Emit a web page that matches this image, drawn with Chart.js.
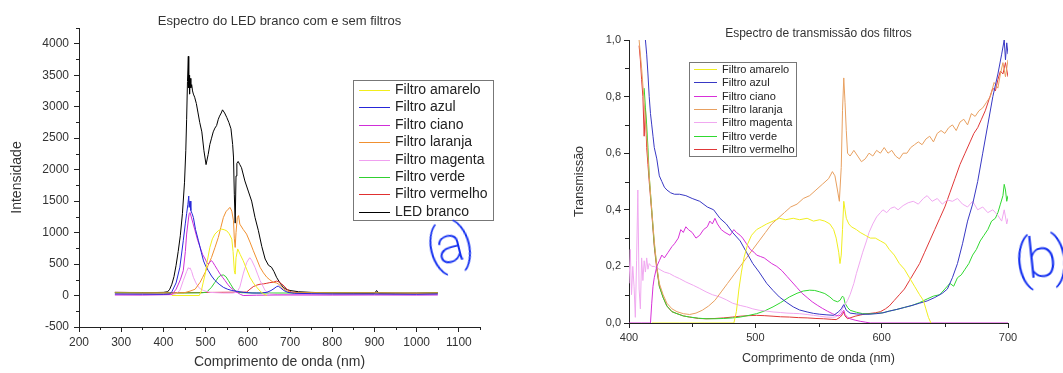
<!DOCTYPE html>
<html>
<head>
<meta charset="utf-8">
<script src="https://cdn.jsdelivr.net/npm/chart.js@4.4.1/dist/chart.umd.min.js"></script>
<style>
  html, body { margin: 0; padding: 0; background: #fff; }
  body { width: 1063px; height: 373px; position: relative; overflow: hidden; }
  #boxA { position: absolute; left: 0; top: 0; width: 530px; height: 373px; }
  #boxB { position: absolute; left: 540px; top: 0; width: 523px; height: 373px; }
  .hand { position: absolute; color: #1430f0; font-family: "DejaVu Sans ExtraLight", "Roboto", "Open Sans", sans-serif; font-weight: 200; line-height: 1; white-space: nowrap; transform-origin: 50% 50%; }
</style>
</head>
<body>
<div id="boxA"><canvas id="ledChart" width="530" height="373"></canvas></div>
<div id="boxB"><canvas id="transChart" width="523" height="373"></canvas></div>
<span class="hand" style="left:426px;top:220px;font-size:52px;letter-spacing:-6px;transform:rotate(-14deg);">(a)</span>
<span class="hand" style="left:1014px;top:230px;font-size:56px;letter-spacing:-5px;transform:rotate(-6deg);">(b)</span>
<script>
// ---- (a) LED spectrum, intensity vs wavelength (nm) ----
const ledX = [285, 320, 360, 400, 410, 415, 420, 425, 430, 435, 440, 445, 450, 453, 455, 457, 459, 460, 461, 462, 463, 465, 467, 469, 471, 474, 478, 482, 486, 491, 496, 501, 506, 510, 514, 518, 522, 526, 530, 533, 537, 540, 545, 550, 555, 560, 564, 566, 568, 570, 572, 574, 577, 581, 585, 593, 601, 609, 617, 625, 633, 641, 649, 656, 662, 668, 676, 684, 692, 700, 720, 750, 800, 850, 900, 905, 910, 950, 1000, 1050];
const ledY = [50, 48, 45, 50, 60, 100, 180, 300, 480, 700, 950, 1300, 1800, 2300, 2800, 3400, 3800, 3300, 3500, 3200, 3450, 3300, 3350, 3250, 3200, 3150, 3050, 2900, 2750, 2600, 2300, 2080, 2240, 2400, 2500, 2600, 2660, 2700, 2800, 2850, 2900, 2950, 2900, 2830, 2750, 2650, 2400, 2200, 1600, 1150, 1900, 2100, 2130, 2080, 2030, 1820, 1660, 1500, 1240, 1030, 780, 580, 480, 450, 380, 290, 200, 130, 95, 80, 60, 50, 40, 35, 30, 80, 35, 30, 35, 40];

const aAzulX = [285, 350, 400, 415, 420, 430, 439, 447, 452, 455, 458, 460, 461, 463, 465, 468, 471, 476, 483, 490, 495, 500, 506, 514, 522, 532, 542, 552, 562, 575, 590, 610, 630, 645, 655, 662, 668, 672, 678, 685, 695, 710, 750, 800, 900, 1000, 1050];
const aAzulY = [25, 22, 20, 25, 60, 200, 450, 870, 1150, 1300, 1450, 1580, 1400, 1500, 1350, 1300, 1240, 1050, 870, 680, 550, 470, 400, 310, 240, 180, 130, 100, 80, 65, 50, 40, 40, 50, 80, 110, 140, 150, 120, 80, 50, 35, 30, 25, 25, 20, 25];

const aCianoX = [285, 350, 420, 430, 440, 447, 452, 455, 459, 461, 463, 466, 470, 475, 481, 487, 493, 499, 503, 506, 510, 514, 518, 522, 528, 534, 540, 546, 552, 558, 566, 574, 582, 589, 620, 700, 800, 900, 1000, 1050];
const aCianoY = [10, 8, 15, 100, 250, 395, 700, 976, 1200, 1300, 1318, 1250, 1150, 1028, 880, 764, 650, 580, 520, 500, 530, 554, 520, 475, 410, 343, 290, 237, 180, 132, 90, 53, 20, 0, 5, 10, 8, 10, 8, 10];

const aMagentaX = [285, 350, 420, 430, 439, 447, 455, 459, 461, 463, 467, 471, 477, 483, 489, 495, 510, 540, 565, 574, 581, 589, 597, 603, 605, 609, 617, 623, 629, 641, 653, 670, 700, 800, 900, 1050];
const aMagentaY = [10, 10, 15, 30, 79, 237, 380, 443, 420, 440, 380, 290, 200, 132, 100, 79, 50, 40, 40, 53, 132, 343, 520, 590, 600, 560, 448, 340, 237, 79, 26, 15, 10, 10, 10, 10];

const aAmareloX = [420, 485, 490, 494, 499, 504, 510, 516, 522, 530, 538, 544, 550, 556, 562, 565, 568, 570, 572, 576, 582, 589, 597, 605, 613, 621, 629, 637, 645];
const aAmareloY = [0, 0, 80, 200, 343, 550, 764, 900, 976, 1030, 1055, 1045, 1028, 980, 897, 700, 395, 340, 600, 740, 650, 554, 420, 290, 200, 132, 70, 26, 0];

const aLaranjaX = [285, 350, 420, 450, 463, 475, 487, 493, 499, 506, 514, 522, 530, 536, 542, 548, 553, 558, 562, 566, 568, 570, 572, 575, 578, 581, 589, 597, 605, 613, 621, 629, 637, 645, 652, 660, 668, 672, 678, 684, 692, 700, 720, 800, 900, 1000, 1050];
const aLaranjaY = [40, 38, 40, 45, 70, 100, 211, 290, 369, 480, 606, 760, 922, 1080, 1239, 1330, 1370, 1400, 1340, 1186, 900, 764, 1000, 1239, 1270, 1134, 1050, 976, 850, 712, 580, 448, 360, 290, 250, 211, 200, 185, 150, 105, 75, 53, 45, 40, 40, 35, 40];

const aVerdeX = [285, 350, 450, 490, 502, 508, 514, 522, 530, 536, 542, 548, 554, 560, 566, 572, 577, 585, 620, 700, 800, 900, 1000, 1050];
const aVerdeY = [45, 42, 40, 42, 53, 90, 132, 210, 290, 320, 327, 300, 237, 170, 105, 70, 53, 45, 40, 40, 42, 40, 38, 42];

const aVermelhoX = [285, 350, 450, 520, 597, 605, 613, 621, 629, 637, 645, 652, 660, 668, 674, 680, 686, 692, 698, 703, 720, 800, 900, 1000, 1050];
const aVermelhoY = [50, 48, 45, 50, 55, 100, 142, 165, 180, 185, 195, 205, 211, 230, 215, 185, 150, 105, 75, 53, 48, 45, 45, 40, 45];

const aTicksX = [200, 300, 400, 500, 600, 700, 800, 900, 1000, 1100];
const aTicksY = [-500, 0, 500, 1000, 1500, 2000, 2500, 3000, 3500, 4000];

// ---- (b) transmission, 0..1 vs wavelength (nm) ----
const bAmareloX = [418, 440, 460, 483, 485, 487, 489, 491, 494, 497, 501, 505, 509, 514, 519, 524, 530, 535, 541, 546, 551, 555, 559, 562, 564, 566, 567, 568, 569, 570, 571, 572, 574, 576, 580, 583, 587, 591, 595, 599, 603, 606, 610, 614, 618, 622, 626, 630, 633, 635, 637, 639];
const bAmareloY = [0, 0, 0, 0, 0.04, 0.12, 0.18, 0.23, 0.28, 0.31, 0.33, 0.34, 0.35, 0.36, 0.37, 0.365, 0.37, 0.365, 0.37, 0.36, 0.365, 0.36, 0.35, 0.33, 0.30, 0.25, 0.21, 0.24, 0.33, 0.43, 0.40, 0.37, 0.35, 0.34, 0.33, 0.32, 0.31, 0.30, 0.30, 0.29, 0.28, 0.26, 0.24, 0.21, 0.19, 0.16, 0.13, 0.10, 0.08, 0.05, 0.02, 0];

const bAzulX = [413, 414, 415, 416, 417, 418, 419, 420, 422, 424, 426, 428, 430, 433, 436, 440, 445, 450, 456, 462, 467, 472, 477, 482, 488, 493, 498, 503, 509, 514, 519, 525, 530, 535, 541, 546, 551, 556, 562, 566, 568, 570, 572, 575, 580, 585, 590, 596, 601, 606, 612, 618, 624, 630, 636, 642, 648, 652, 656, 660, 664, 668, 672, 676, 680, 684, 688, 692, 695, 697, 698, 699, 700];
const bAzulY = [1.0, 0.95, 0.88, 0.8, 0.74, 0.70, 0.66, 0.62, 0.58, 0.52, 0.50, 0.48, 0.47, 0.46, 0.455, 0.455, 0.45, 0.44, 0.43, 0.41, 0.40, 0.37, 0.35, 0.32, 0.29, 0.25, 0.21, 0.18, 0.14, 0.115, 0.092, 0.072, 0.057, 0.046, 0.039, 0.034, 0.031, 0.029, 0.027, 0.04, 0.05, 0.065, 0.045, 0.035, 0.032, 0.031, 0.031, 0.033, 0.036, 0.042, 0.048, 0.055, 0.062, 0.07, 0.078, 0.09, 0.105, 0.12, 0.16, 0.21, 0.28, 0.36, 0.42, 0.5, 0.6, 0.7, 0.8, 0.88, 0.95, 1.0, 0.93, 0.99, 0.95];

const bCianoX = [400, 410, 417, 418, 419, 420, 422, 424, 426, 428, 431, 434, 436, 439, 441, 443, 445, 447, 450, 453, 456, 459, 462, 464, 466, 468, 470, 473, 476, 480, 483, 485, 488, 490, 493, 496, 499, 501, 504, 507, 510, 513, 517, 521, 525, 529, 533, 537, 541, 545, 549, 553, 557, 561, 564, 566, 568, 569, 570, 571, 573, 575, 579, 583, 587, 591, 600, 650, 700];
const bCianoY = [0, 0, 0, 0.07, 0.13, 0.16, 0.2, 0.22, 0.24, 0.23, 0.25, 0.27, 0.28, 0.3, 0.33, 0.32, 0.34, 0.33, 0.32, 0.3, 0.31, 0.33, 0.34, 0.36, 0.35, 0.37, 0.35, 0.33, 0.32, 0.31, 0.33, 0.32, 0.31, 0.3, 0.28, 0.26, 0.25, 0.24, 0.235, 0.23, 0.22, 0.21, 0.2, 0.185, 0.165, 0.145, 0.125, 0.105, 0.09, 0.075, 0.063, 0.052, 0.042, 0.033, 0.027, 0.025, 0.03, 0.04, 0.045, 0.03, 0.02, 0.015, 0.01, 0.006, 0.003, 0, 0, 0, 0];

const bLaranjaX = [408, 410, 412, 414, 416, 418, 420, 422, 424, 427, 430, 434, 438, 443, 448, 453, 458, 463, 468, 473, 478, 483, 488, 493, 498, 503, 508, 513, 518, 523, 528, 533, 538, 543, 548, 553, 558, 561, 563, 565, 566.5, 568, 569, 570, 571, 572, 573, 575, 578, 581, 584, 587, 590, 593, 596, 599, 602, 605, 608, 611, 614, 617, 620, 623, 626, 629, 632, 635, 638, 641, 644, 647, 650, 653, 656, 659, 662, 665, 668, 671, 674, 677, 680, 683, 686, 689, 692, 694, 696, 698, 700];
const bLaranjaY = [1.0, 0.9, 0.78, 0.66, 0.52, 0.40, 0.29, 0.2, 0.14, 0.1, 0.07, 0.05, 0.04, 0.033, 0.03, 0.035, 0.045, 0.06, 0.08, 0.11, 0.14, 0.17, 0.2, 0.23, 0.26, 0.29, 0.32, 0.35, 0.37, 0.39, 0.41, 0.42, 0.44, 0.45, 0.47, 0.49, 0.51, 0.535, 0.52, 0.47, 0.43, 0.55, 0.75, 0.866, 0.78, 0.68, 0.6, 0.59, 0.61, 0.59, 0.57, 0.58, 0.6, 0.59, 0.61, 0.6, 0.62, 0.6, 0.61, 0.59, 0.58, 0.6, 0.6, 0.62, 0.63, 0.64, 0.63, 0.65, 0.66, 0.64, 0.67, 0.68, 0.67, 0.69, 0.7, 0.68, 0.71, 0.72, 0.7, 0.74, 0.73, 0.75, 0.76, 0.78, 0.8, 0.85, 0.83, 0.88, 0.92, 0.87, 0.93];

const bMagentaX = [400, 401, 402, 403, 404, 405, 406, 407, 408, 409, 410, 411, 412, 413, 414, 415, 416, 418, 420, 424, 428, 432, 436, 440, 445, 451, 456, 461, 466, 472, 477, 482, 488, 493, 498, 503, 509, 514, 520, 525, 530, 535, 541, 546, 551, 556, 561, 564, 567, 569, 571, 573, 575, 578, 580, 583, 585, 588, 590, 593, 596, 599, 601, 604, 607, 610, 613, 617, 621, 625, 629, 633, 636, 640, 644, 648, 652, 656, 660, 664, 668, 672, 676, 680, 684, 688, 692, 695, 697, 699, 700];
const bMagentaY = [0.14, 0.26, 0.1, 0.2, 0.13, 0.02, 0.22, 0.47, 0.12, 0.05, 0.23, 0.15, 0.22, 0.18, 0.23, 0.19, 0.21, 0.2, 0.2, 0.19, 0.18, 0.175, 0.165, 0.157, 0.145, 0.133, 0.122, 0.11, 0.1, 0.092, 0.082, 0.07, 0.062, 0.057, 0.05, 0.045, 0.042, 0.039, 0.037, 0.035, 0.034, 0.033, 0.03, 0.027, 0.024, 0.021, 0.02, 0.022, 0.035, 0.05, 0.065, 0.08, 0.1, 0.14, 0.175, 0.22, 0.25, 0.29, 0.32, 0.35, 0.375, 0.39, 0.4, 0.39, 0.405, 0.41, 0.4, 0.415, 0.425, 0.43, 0.42, 0.44, 0.45, 0.43, 0.44, 0.42, 0.435, 0.43, 0.44, 0.42, 0.41, 0.43, 0.4, 0.41, 0.39, 0.4, 0.38, 0.36, 0.4, 0.35, 0.37];

const bVerdeX = [412, 413, 414, 415, 416, 418, 420, 422, 424, 427, 430, 434, 438, 443, 448, 455, 461, 468, 475, 482, 488, 495, 501, 507, 514, 520, 527, 533, 538, 543, 547, 551, 555, 559, 562, 565, 567, 569, 570, 571, 573, 575, 580, 585, 590, 596, 601, 606, 612, 618, 624, 630, 636, 641, 646, 650, 654, 657, 660, 663, 666, 669, 672, 675, 678, 681, 684, 687, 690, 692, 694, 696, 697, 698, 699, 700];
const bVerdeY = [0.83, 0.76, 0.7, 0.62, 0.52, 0.40, 0.28, 0.2, 0.13, 0.09, 0.06, 0.04, 0.033, 0.025, 0.021, 0.017, 0.015, 0.015, 0.016, 0.018, 0.021, 0.027, 0.033, 0.042, 0.057, 0.072, 0.092, 0.105, 0.113, 0.116, 0.115, 0.11, 0.104, 0.092, 0.08, 0.075, 0.08, 0.095, 0.09, 0.07, 0.055, 0.045, 0.038, 0.033, 0.032, 0.034, 0.036, 0.042, 0.048, 0.055, 0.062, 0.072, 0.085, 0.095, 0.1, 0.12, 0.14, 0.13, 0.16, 0.17, 0.19, 0.21, 0.24, 0.26, 0.29, 0.31, 0.33, 0.36, 0.37, 0.39, 0.42, 0.45, 0.49, 0.47, 0.43, 0.45];

const bVermelhoX = [408, 409, 410, 411, 412, 413, 414, 415, 416, 418, 420, 422, 424, 427, 430, 434, 438, 443, 448, 455, 461, 468, 475, 482, 488, 495, 501, 507, 514, 520, 527, 534, 541, 548, 554, 560, 564, 567, 569, 570, 571, 573, 575, 579, 583, 587, 591, 595, 599, 603, 606, 610, 614, 618, 622, 626, 630, 634, 638, 642, 646, 650, 654, 658, 662, 666, 670, 673, 676, 679, 682, 685, 688, 690, 692, 694, 696, 698, 700];
const bVermelhoY = [0.98, 0.93, 0.86, 0.8, 0.66, 0.76, 0.62, 0.56, 0.5, 0.39, 0.27, 0.19, 0.13, 0.09, 0.06, 0.04, 0.033, 0.025, 0.021, 0.016, 0.015, 0.016, 0.018, 0.021, 0.024, 0.026, 0.027, 0.026, 0.024, 0.022, 0.021, 0.019, 0.018, 0.016, 0.015, 0.013, 0.012, 0.02, 0.03, 0.04, 0.025, 0.015, 0.018, 0.024, 0.028, 0.032, 0.034, 0.036, 0.04, 0.05, 0.06, 0.08, 0.1, 0.12, 0.15, 0.18, 0.21, 0.25, 0.29, 0.33, 0.37, 0.41, 0.46, 0.51, 0.56, 0.6, 0.64, 0.67, 0.69, 0.72, 0.75, 0.79, 0.83, 0.82, 0.86, 0.89, 0.88, 0.92, 0.87];

const bTicksX = [400, 500, 600, 700];
const bTicksY = [0, 0.2, 0.4, 0.6, 0.8, 1.0];

const labels = ['Filtro amarelo', 'Filtro azul', 'Filtro ciano', 'Filtro laranja', 'Filtro magenta', 'Filtro verde', 'Filtro vermelho', 'LED branco'];

const pts = (xs, ys) => xs.map((x, i) => ({ x, y: ys[i] }));

function line(label, color, xs, ys) {
    return {
        label,
        data: pts(xs, ys),
        borderColor: color,
        backgroundColor: color,
        borderWidth: 1,
        pointRadius: 0,
        tension: 0,
        fill: false
    };
}

// small legend box + minor ticks, drawn after the chart
const decor = {
    id: 'decor',
    afterDraw(chart, args, o) {
        const ctx = chart.ctx;
        const area = chart.chartArea;
        const sx = chart.scales.x, sy = chart.scales.y;
        ctx.save();
        ctx.strokeStyle = '#222';
        ctx.lineWidth = 1;
        ctx.beginPath();
        o.minorX.forEach(v => {
            const px = Math.round(sx.getPixelForValue(v)) + 0.5;
            ctx.moveTo(px, area.bottom);
            ctx.lineTo(px, area.bottom + o.minorLen);
        });
        o.minorY.forEach(v => {
            const py = Math.round(sy.getPixelForValue(v)) + 0.5;
            ctx.moveTo(area.left, py);
            ctx.lineTo(area.left - o.minorLen, py);
        });
        ctx.stroke();

        const L = o.legend;
        ctx.fillStyle = '#fff';
        ctx.fillRect(L.x, L.y, L.w, L.h);
        ctx.strokeStyle = '#777';
        ctx.strokeRect(L.x + 0.5, L.y + 0.5, L.w, L.h);
        ctx.font = L.font;
        ctx.textBaseline = 'middle';
        ctx.textAlign = 'left';
        chart.data.datasets.forEach((ds, i) => {
            const cy = Math.round(L.y + L.first + i * L.gap) + 0.5;
            ctx.strokeStyle = ds.borderColor;
            ctx.beginPath();
            ctx.moveTo(L.x + L.lineFrom, cy);
            ctx.lineTo(L.x + L.lineTo, cy);
            ctx.stroke();
            ctx.fillStyle = '#222';
            ctx.fillText(ds.label, L.x + L.textX, cy);
        });
        ctx.restore();
    }
};

const FONT = 'Arial, "Liberation Sans", sans-serif';

function axes(cfg) {
    return {
        x: {
            type: 'linear',
            min: cfg.xMin, max: cfg.xMax,
            afterFit: s => { s.height = cfg.xHeight; },
            afterBuildTicks: s => { s.ticks = cfg.ticksX.map(v => ({ value: v })); },
            grid: { drawOnChartArea: false, tickLength: 5, color: '#222' },
            border: { color: '#222', width: 1 },
            ticks: { padding: 3, color: '#333', font: { family: FONT, size: cfg.tickSize }, maxRotation: 0, autoSkip: false, callback: cfg.fmtX },
            title: { display: true, text: 'Comprimento de onda (nm)', color: '#333', font: { family: FONT, size: cfg.axisSize }, padding: { top: 0, bottom: cfg.xTitlePad } }
        },
        y: {
            type: 'linear',
            min: cfg.yMin, max: cfg.yMax,
            afterFit: s => { s.width = cfg.yWidth; },
            afterBuildTicks: s => { s.ticks = cfg.ticksY.map(v => ({ value: v })); },
            grid: { drawOnChartArea: false, tickLength: 5, color: '#222' },
            border: { color: '#222', width: 1 },
            ticks: { padding: cfg.yTickPad, color: '#333', font: { family: FONT, size: cfg.tickSize }, autoSkip: false, callback: cfg.fmtY },
            title: { display: true, text: cfg.yTitle, color: '#333', font: { family: FONT, size: cfg.axisSize }, padding: { top: cfg.yTitlePad, bottom: 0 } }
        }
    };
}

new Chart(document.getElementById('ledChart'), {
    type: 'line',
    data: {
        datasets: [
            line(labels[0], '#f2ee1c', aAmareloX, aAmareloY),
            line(labels[1], '#2626d8', aAzulX, aAzulY),
            line(labels[2], '#d02ed8', aCianoX, aCianoY),
            line(labels[3], '#f09030', aLaranjaX, aLaranjaY),
            line(labels[4], '#f0a0f0', aMagentaX, aMagentaY),
            line(labels[5], '#30d030', aVerdeX, aVerdeY),
            line(labels[6], '#e03030', aVermelhoX, aVermelhoY),
            line(labels[7], '#000000', ledX, ledY)
        ]
    },
    options: {
        responsive: false,
        animation: false,
        devicePixelRatio: 1,
        layout: { padding: { top: 0, right: 50, bottom: 0, left: 0 } },
        scales: axes({
            xMin: 200, xMax: 1150, yMin: -500, yMax: 4250,
            ticksX: aTicksX, ticksY: aTicksY,
            xHeight: 46, yWidth: 79, tickSize: 12, axisSize: 14,
            xTitlePad: 2, yTitlePad: 9, yTickPad: 5,
            yTitle: 'Intensidade',
            fmtX: v => String(v), fmtY: v => String(v)
        }),
        plugins: {
            legend: { display: false },
            tooltip: { enabled: false },
            title: {
                display: true, fullSize: false,
                text: 'Espectro do LED branco com e sem filtros',
                color: '#333', font: { family: FONT, size: 13, weight: 'normal', lineHeight: 1 },
                padding: { top: 15, bottom: 0 }
            },
            decor: {
                minorLen: 3,
                minorX: [250, 350, 450, 550, 650, 750, 850, 950, 1050, 1150],
                minorY: [-250, 250, 750, 1250, 1750, 2250, 2750, 3250, 3750, 4250],
                legend: { x: 353, y: 80, w: 140, h: 140, first: 10, gap: 17.4, lineFrom: 6, lineTo: 37, textX: 42, font: '14px ' + FONT }
            }
        }
    },
    plugins: [decor]
});

new Chart(document.getElementById('transChart'), {
    type: 'line',
    data: {
        datasets: [
            line(labels[0], '#f0ee20', bAmareloX, bAmareloY),
            line(labels[1], '#3838c4', bAzulX, bAzulY),
            line(labels[2], '#d830d8', bCianoX, bCianoY),
            line(labels[3], '#e8a060', bLaranjaX, bLaranjaY),
            line(labels[4], '#f0a8f0', bMagentaX, bMagentaY),
            line(labels[5], '#30d830', bVerdeX, bVerdeY),
            line(labels[6], '#e03838', bVermelhoX, bVermelhoY)
        ]
    },
    options: {
        responsive: false,
        animation: false,
        devicePixelRatio: 1,
        layout: { padding: { top: 0, right: 55, bottom: 0, left: 0 } },
        scales: axes({
            xMin: 400, xMax: 700, yMin: 0, yMax: 1.0,
            ticksX: bTicksX, ticksY: bTicksY,
            xHeight: 50, yWidth: 89, tickSize: 11, axisSize: 12.5,
            xTitlePad: 7, yTitlePad: 32, yTickPad: 3,
            yTitle: 'Transmissão',
            fmtX: v => String(v), fmtY: v => v.toFixed(1).replace('.', ',')
        }),
        plugins: {
            legend: { display: false },
            tooltip: { enabled: false },
            title: {
                display: true, fullSize: false,
                text: 'Espectro de transmissão dos filtros',
                color: '#333', font: { family: FONT, size: 12, weight: 'normal', lineHeight: 1 },
                padding: { top: 28, bottom: 0 }
            },
            decor: {
                minorLen: 4,
                minorX: [450, 550, 650],
                minorY: [0.1, 0.3, 0.5, 0.7, 0.9],
                legend: { x: 149, y: 62, w: 107, h: 94, first: 7, gap: 13.33, lineFrom: 5, lineTo: 28, textX: 33, font: '11px ' + FONT }
            }
        }
    },
    plugins: [decor]
});
</script>
</body>
</html>
